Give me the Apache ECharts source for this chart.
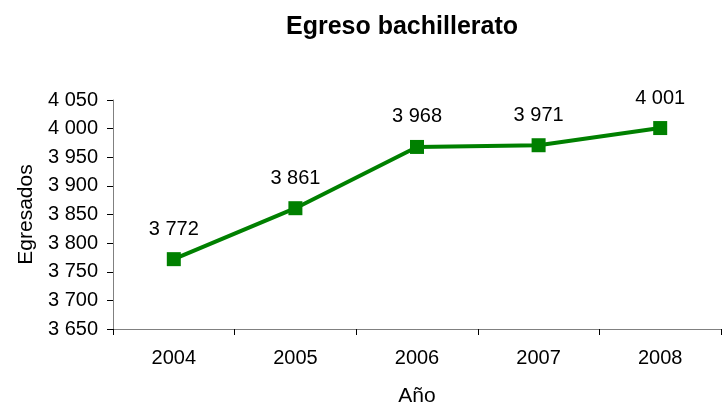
<!DOCTYPE html>
<html>
<head>
<meta charset="utf-8">
<script src="https://cdn.jsdelivr.net/npm/echarts@6/dist/echarts.min.js"></script>
<style>
  html, body { margin: 0; padding: 0; background: #fff; }
  #chart { width: 722px; height: 405px; }
</style>
</head>
<body>
<div id="chart"></div>
<script>
const years = ['2004', '2005', '2006', '2007', '2008'];
const egresados = [3772, 3861, 3968, 3971, 4001];

const fmt = (v) => String(v).replace(/\B(?=(\d{3})+(?!\d))/g, ' ');
const font = 'Liberation Sans, Arial, sans-serif';

const chart = echarts.init(document.getElementById('chart'), null, { renderer: 'canvas' });
chart.setOption({
  animation: false,
  backgroundColor: '#fff',
  title: {
    text: 'Egreso bachillerato',
    left: 397,
    top: 10,
    textAlign: 'center',
    textStyle: { fontFamily: font, fontSize: 25, fontWeight: 'bold', color: '#000' }
  },
  grid: {
    left: 113, right: 1, top: 100, bottom: 76,
    containLabel: false,
    outerBoundsMode: 'none'
  },
  xAxis: {
    type: 'category',
    data: years,
    boundaryGap: true,
    name: 'Año',
    nameLocation: 'middle',
    nameGap: 57,
    nameTextStyle: { fontFamily: font, fontSize: 21, color: '#000' },
    axisLine: { lineStyle: { color: '#808080', width: 1 } },
    axisTick: { show: true, length: 6, lineStyle: { color: '#000' } },
    axisLabel: { fontFamily: font, fontSize: 20, color: '#000', margin: 19 },
    splitLine: { show: false }
  },
  yAxis: {
    type: 'value',
    min: 3650,
    max: 4050,
    interval: 50,
    name: 'Egresados',
    nameLocation: 'middle',
    nameGap: 74,
    nameTextStyle: { fontFamily: font, fontSize: 21, color: '#000' },
    axisLine: { show: true, lineStyle: { color: '#808080', width: 1 } },
    axisTick: { show: true, length: 6, lineStyle: { color: '#000' } },
    axisLabel: { fontFamily: font, fontSize: 20, color: '#000', margin: 15, formatter: fmt },
    splitLine: { show: false }
  },
  series: [{
    type: 'line',
    data: egresados,
    symbol: 'rect',
    symbolSize: 14,
    lineStyle: { color: '#008000', width: 4 },
    itemStyle: { color: '#008000' },
    label: {
      show: true,
      position: 'top',
      distance: 13,
      fontFamily: font,
      fontSize: 20,
      color: '#000',
      formatter: (p) => fmt(p.value)
    }
  }]
});
</script>
</body>
</html>
